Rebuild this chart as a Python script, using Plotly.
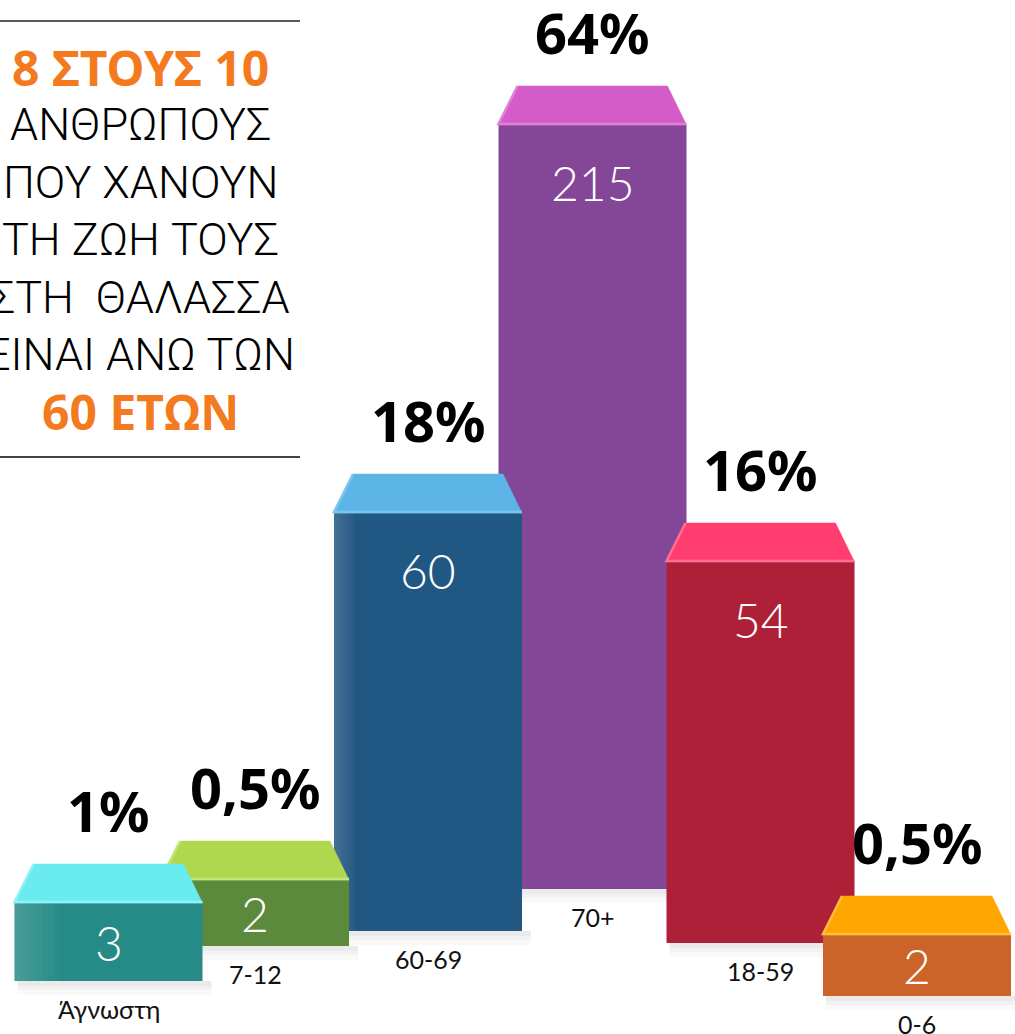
import plotly.graph_objects as go

# ---------------- data ----------------
categories = ["Άγνωστη", "7-12", "60-69", "70+", "18-59", "0-6"]
deaths = [3, 2, 60, 215, 54, 2]
percent_labels = ["1%", "0,5%", "18%", "64%", "16%", "0,5%"]

headline_lines = ["8 ΣΤΟΥΣ 10", "ΑΝΘΡΩΠΟΥΣ", "ΠΟΥ ΧΑΝΟΥΝ", "ΤΗ ΖΩΗ ΤΟΥΣ",
                  "ΣΤΗ  ΘΑΛΑΣΣΑ", "ΕΙΝΑΙ ΑΝΩ ΤΩΝ", "60 ΕΤΩΝ"]
headline_bold = [True, False, False, False, False, False, True]

# ---------------- visual layout (pseudo-3D infographic, pixel space) ----------------
W, H = 1015, 1034
bar_center = [108.5, 255, 428, 592.5, 760.5, 917]   # horizontal placement
bar_floor_px = [981, 946, 931, 889, 943, 996]        # staggered baselines
bar_drawn_height = [78, 66, 418, 764, 381, 61]       # drawn heights of the front faces
draw_order = [3, 2, 1, 0, 4, 5]                      # back -> front
gloss_width = [45, 33, 22, 0, 0, 0]                  # light gradient on the left of the front
BAR_W = 188
DEPTH = 39
INSET = 19

front_colors = ["#268B87", "#5B8A3C", "#215783", "#844797", "#AD2037", "#CC6329"]
top_colors = ["#6AEBEF", "#AFD84F", "#5CB4E7", "#D45CC9", "#FF3D6F", "#FFA600"]
edge_colors = ["#8FF3F5", "#C3E67A", "#7CC5EE", "#E07FD8", "#FF6F93", "#FFBE3C"]

ORANGE = "#F47A20"

fig = go.Figure()

# soft shadows beneath the bars
for i in draw_order:
    base = H - bar_floor_px[i]
    for dh, a in [(14, 0.022), (9, 0.028), (5, 0.032)]:
        fig.add_trace(go.Bar(
            x=[bar_center[i] + 6], y=[dh], base=[base - dh], width=BAR_W + 6,
            marker=dict(color=f"rgba(0,0,0,{a})", line=dict(width=0)),
            hoverinfo="skip", showlegend=False))

# front faces (with a light gradient on the left)
for i in draw_order:
    base = H - bar_floor_px[i]
    fig.add_trace(go.Bar(
        x=[bar_center[i]], y=[bar_drawn_height[i]], base=[base], width=BAR_W,
        marker=dict(color=front_colors[i], line=dict(width=0)),
        name=categories[i], customdata=[deaths[i]],
        hovertemplate="%{customdata}<extra>" + categories[i] + "</extra>",
        showlegend=False))
    left = bar_center[i] - BAR_W / 2
    gw = gloss_width[i]
    if gw:
        n = 8
        for k in range(1, n + 1):
            sw = gw * k / n
            fig.add_trace(go.Bar(
                x=[left + sw / 2], y=[bar_drawn_height[i]], base=[base], width=sw,
                marker=dict(color="rgba(255,255,255,0.022)", line=dict(width=0)),
                hoverinfo="skip", showlegend=False))

# top faces (trapezoids)
for i in draw_order:
    c = bar_center[i]
    t = H - bar_floor_px[i] + bar_drawn_height[i]
    hw = BAR_W / 2
    xs = [c - hw, c - hw + INSET, c + hw - INSET, c + hw, c - hw]
    ys = [t, t + DEPTH, t + DEPTH, t, t]
    fig.add_trace(go.Scatter(
        x=xs, y=ys, mode="lines", fill="toself", fillcolor=top_colors[i],
        line=dict(color=top_colors[i], width=0.5),
        hoverinfo="skip", showlegend=False))
    fig.add_trace(go.Scatter(
        x=[c + hw, c - hw, c - hw + INSET], y=[t + 1, t + 1, t + DEPTH],
        mode="lines", line=dict(color=edge_colors[i], width=2.5),
        hoverinfo="skip", showlegend=False))

annotations = []
for i in range(len(categories)):
    c = bar_center[i]
    top_px = bar_floor_px[i] - bar_drawn_height[i]
    annotations.append(dict(
        x=c, y=H - (top_px - DEPTH - 54), text=f"<b>{percent_labels[i]}</b>",
        font=dict(family="Noto Sans", size=56, color="#000000", weight=900),
        xanchor="center", yanchor="middle"))
    off = min(57, bar_drawn_height[i] / 2)
    annotations.append(dict(
        x=c, y=H - (top_px + off), text=str(deaths[i]),
        font=dict(family="Lato", size=48, color="#FFFFFF", weight=300),
        xanchor="center", yanchor="middle"))
    annotations.append(dict(
        x=c, y=H - (bar_floor_px[i] + 28), text=categories[i],
        font=dict(family="Lato", size=25, color="#111111"),
        xanchor="center", yanchor="middle"))

# headline block on the left
for k, (line, bold) in enumerate(zip(headline_lines, headline_bold)):
    yc = 67.5 + k * 57.4
    if bold:
        font = dict(family="Noto Sans", size=48, color=ORANGE, weight=900)
        text = f"<b>{line}</b>"
    else:
        font = dict(family="Roboto", size=45, color="#000000", weight=300)
        text = line
    annotations.append(dict(x=140, y=H - yc, text=text, font=font,
                            xanchor="center", yanchor="middle"))

for a in annotations:
    a.update(xref="x", yref="y", showarrow=False)

fig.update_layout(
    width=W, height=H,
    margin=dict(l=0, r=0, t=0, b=0),
    paper_bgcolor="white", plot_bgcolor="white",
    barmode="overlay",
    xaxis=dict(range=[0, W], visible=False, fixedrange=True),
    yaxis=dict(range=[0, H], visible=False, fixedrange=True),
    annotations=annotations,
    shapes=[
        dict(type="line", xref="x", yref="y", x0=0, x1=300, y0=H - 21, y1=H - 21,
             line=dict(color="#222222", width=1.5)),
        dict(type="line", xref="x", yref="y", x0=0, x1=300, y0=H - 457, y1=H - 457,
             line=dict(color="#444444", width=2)),
    ],
)

fig.write_html("out.html",
               config={"displayModeBar": False},
               post_script="document.body.style.margin='0';document.body.style.overflow='hidden';")
